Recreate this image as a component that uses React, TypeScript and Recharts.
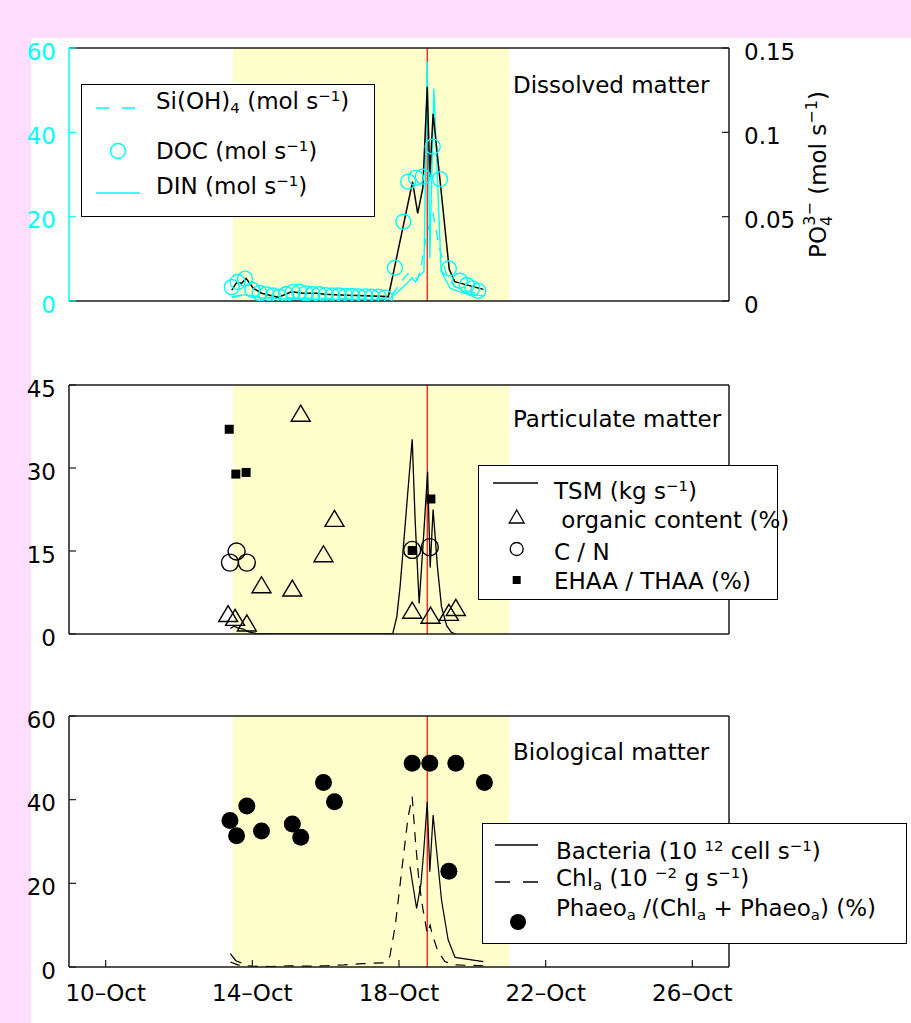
import React from 'react';
import {
  ComposedChart,
  Line,
  Scatter,
  XAxis,
  YAxis,
  ReferenceArea,
  ReferenceLine,
  Legend,
} from 'recharts';

const FONT = '"DejaVu Sans", Arial, sans-serif';
const FS = 23;
const CYAN = '#00FFFF';
const INK = '#000000';
const FRAME = '#1a1a1a';
const SHADE = '#FFFFCC';
const PINK = '#FFDDFF';

// Time axis (day of October)
const dayDomain: [number, number] = [9, 27];
const dayTicks = [10, 14, 18, 22, 26];
const dayLabels = ['10–Oct', '14–Oct', '18–Oct', '22–Oct', '26–Oct'];
const shadeStart = 13.47;
const shadeEnd = 21.0;
const floodPeak = 18.77;

// ---- Dissolved matter ----
const po4Days = [13.44, 13.57, 13.71, 13.83, 14.03, 14.25, 14.71, 15.07, 15.39, 15.75, 15.98, 16.39, 16.85, 17.71, 18.37, 18.51, 18.65, 18.77, 18.84, 18.93, 19.37, 19.52, 20.3];
const po4Flux = [0.0065, 0.0109, 0.0105, 0.0134, 0.0075, 0.0046, 0.0022, 0.0055, 0.0046, 0.0046, 0.004, 0.0036, 0.0032, 0.0026, 0.0707, 0.052, 0.067, 0.127, 0.0737, 0.111, 0.0188, 0.0115, 0.0069];

const docDays = [13.44, 13.6, 13.8, 14.0, 14.2, 14.38, 14.56, 14.74, 14.92, 15.1, 15.28, 15.46, 15.64, 15.82, 16.0, 16.18, 16.36, 16.54, 16.72, 16.9, 17.08, 17.26, 17.44, 17.62, 17.89, 18.12, 18.25, 18.46, 18.65, 18.92, 19.12, 19.36, 19.66, 19.85, 20.0, 20.16];
const docFlux = [3.3, 4.5, 5.3, 2.6, 1.9, 1.6, 1.3, 1.0, 1.6, 2.1, 2.2, 1.8, 1.6, 1.6, 1.4, 1.3, 1.3, 1.2, 1.2, 1.1, 1.1, 1.0, 1.0, 0.8, 7.9, 18.8, 28.3, 29.2, 29.5, 36.6, 28.9, 7.7, 4.8, 3.8, 3.0, 2.4];

const siDays = [13.44, 13.8, 14.2, 15.0, 16.0, 17.0, 17.7, 17.9, 18.1, 18.25, 18.4, 18.5, 18.6, 18.72, 18.8, 18.92, 19.05, 19.15, 19.3, 19.5, 19.8, 20.3];
const siFlux = [1.0, 1.6, 0.9, 0.7, 0.6, 0.5, 0.5, 2.5, 5.0, 6.5, 6.0, 5.0, 8.0, 14.0, 17.0, 21.0, 15.0, 11.0, 6.0, 3.5, 2.5, 1.5];

const dinDays = [13.44, 13.8, 14.2, 15.0, 16.0, 17.0, 17.7, 17.95, 18.2, 18.35, 18.45, 18.55, 18.68, 18.77, 18.84, 18.95, 19.15, 19.4, 19.8, 20.3];
const dinFlux = [0.8, 1.5, 0.8, 0.5, 0.4, 0.3, 0.3, 2.0, 4.0, 5.5, 4.5, 6.0, 7.0, 56.7, 10.2, 50.4, 7.0, 3.0, 1.8, 1.2];

// ---- Particulate matter ----
const tsmDays = [13.4, 13.5, 13.6, 13.75, 13.9, 14.1, 14.5, 15.5, 16.5, 17.5, 17.83, 17.94, 18.03, 18.12, 18.23, 18.36, 18.44, 18.55, 18.67, 18.78, 18.85, 18.93, 19.05, 19.16, 19.3, 19.43, 19.55];
const tsmFlux = [1.0, 1.4, 1.1, 0.9, 0.4, 0.1, 0, 0, 0, 0, 0.1, 3.1, 8.6, 15.8, 24.8, 35.2, 20.6, 5.5, 17.6, 29.3, 12.0, 22.5, 12.0, 4.9, 1.5, 0.3, 0];

const organicDays = [13.34, 13.53, 13.85, 14.25, 15.09, 15.32, 15.94, 16.24, 18.36, 18.86, 19.36, 19.55];
const organicPct = [3.7, 3.0, 2.0, 8.9, 8.3, 39.9, 14.5, 20.9, 4.3, 3.4, 3.9, 4.8];

const cnDays = [13.39, 13.57, 13.85, 18.36, 18.84];
const cnRatio = [12.9, 14.9, 12.9, 15.2, 15.7];

const ehaaDays = [13.37, 13.55, 13.83, 18.36, 18.87];
const ehaaPct = [37.0, 28.9, 29.2, 15.1, 24.4];

// ---- Biological matter ----
const bacteriaDays = [13.4, 13.55, 13.7, 14.0, 18.3, 18.4, 18.48, 18.6, 18.67, 18.77, 18.84, 18.93, 19.16, 19.34, 19.53, 20.3];
const bacteriaFlux = [3.2, 1.5, 1.0, null, 24.0, 18.4, 14.0, 20.0, 27.2, 39.5, 22.8, 36.3, 16.0, 6.5, 2.3, 1.3];

const chlDays = [13.4, 13.6, 14.0, 14.5, 15.0, 15.5, 16.0, 16.5, 17.0, 17.6, 17.75, 17.9, 18.1, 18.25, 18.36, 18.45, 18.55, 18.65, 18.77, 18.85, 18.9, 19.05, 19.25, 19.5, 20.3];
const chlFlux = [1.2, 0.5, 0.2, 0.1, 0.3, 0.2, 0.3, 0.5, 0.8, 1.0, 2.5, 10.0, 25.0, 36.0, 40.7, 30.0, 20.0, 14.0, 8.0, 10.0, 8.0, 4.0, 1.3, 0.5, 0.3];

const phaeoDays = [13.39, 13.57, 13.85, 14.25, 15.09, 15.32, 15.94, 16.24, 18.36, 18.84, 19.55, 20.33, 19.36];
const phaeoPct = [35.0, 31.4, 38.5, 32.5, 34.2, 31.0, 44.1, 39.5, 48.7, 48.7, 48.7, 44.1, 22.9];

type Pt = { t: number; v: number | null };
const pts = (days: number[], vals: (number | null)[]): Pt[] =>
  days.map((t, i) => ({ t, v: vals[i] }));

// ---- tick renderers ----
const leftTick = (color: string) => (p: any) => (
  <text x={p.x} y={p.y + 11.5} textAnchor="end" fill={color} fontSize={FS} fontFamily={FONT}>
    {p.payload.value}
  </text>
);
const rightTick = (p: any) => (
  <text x={p.x} y={p.y + 11.5} textAnchor="start" fill={INK} fontSize={FS} fontFamily={FONT}>
    {p.payload.value}
  </text>
);
const dateTick = (p: any) => (
  <text x={p.x} y={p.y + 17} textAnchor="middle" fill={INK} fontSize={FS} fontFamily={FONT}>
    {dayLabels[dayTicks.indexOf(p.payload.value)]}
  </text>
);

// ---- marker shapes ----
const ring = (r: number, color: string, sw: number) => (p: any) => (
  <circle cx={p.cx} cy={p.cy} r={r} fill="none" stroke={color} strokeWidth={sw} />
);
const disc = (r: number) => (p: any) => <circle cx={p.cx} cy={p.cy} r={r} fill={INK} />;
const triangle = (p: any) => (
  <polygon
    points={`${p.cx},${p.cy - 8} ${p.cx - 9.5},${p.cy + 8} ${p.cx + 9.5},${p.cy + 8}`}
    fill="none"
    stroke={INK}
    strokeWidth={1.4}
  />
);
const square = (p: any) => <rect x={p.cx - 4.5} y={p.cy - 4.5} width={9} height={9} fill={INK} />;

const sup: React.CSSProperties = { fontSize: '0.65em', verticalAlign: '0.55em', lineHeight: 0 };
const sub: React.CSSProperties = { fontSize: '0.65em', verticalAlign: '-0.3em', lineHeight: 0 };

const row = (left: number, baseline: number): React.CSSProperties => ({
  position: 'absolute',
  left,
  top: baseline - 19.5,
  lineHeight: `${FS}px`,
  whiteSpace: 'nowrap',
});

const boxStyle = (w: number, h: number): React.CSSProperties => ({
  position: 'relative',
  width: w,
  height: h,
  border: `1.5px solid ${INK}`,
  background: '#ffffff',
  boxSizing: 'border-box',
  fontFamily: FONT,
  fontSize: FS,
  color: INK,
});

const DissolvedKey = () => (
  <div style={boxStyle(294, 133)}>
    <svg width={294} height={133} style={{ position: 'absolute', left: -1.5, top: -1.5 }}>
      <line x1={15} x2={59} y1={24} y2={24} stroke={CYAN} strokeWidth={1.5} strokeDasharray="13 13" />
      <circle cx={37} cy={67} r={7.5} fill="none" stroke={CYAN} strokeWidth={1.5} />
      <line x1={15} x2={59} y1={109} y2={109} stroke={CYAN} strokeWidth={1.5} />
    </svg>
    <div style={row(74, 24)}>
      Si(OH)<span style={sub}>4</span> (mol s<span style={sup}>−1</span>)
    </div>
    <div style={row(74, 74)}>
      DOC (mol s<span style={sup}>−1</span>)
    </div>
    <div style={row(74, 109)}>
      DIN (mol s<span style={sup}>−1</span>)
    </div>
  </div>
);

const ParticulateKey = () => (
  <div style={boxStyle(300, 135)}>
    <svg width={300} height={135} style={{ position: 'absolute', left: -1.5, top: -1.5 }}>
      <line x1={15} x2={60} y1={18} y2={18} stroke={INK} strokeWidth={1.3} />
      <polygon points="38.7,45 31.2,58 46.2,58" fill="none" stroke={INK} strokeWidth={1.3} />
      <circle cx={38.7} cy={84} r={6.5} fill="none" stroke={INK} strokeWidth={1.3} />
      <rect x={34.7} y={111} width={8} height={8} fill={INK} />
    </svg>
    <div style={row(75, 33)}>
      TSM (kg s<span style={sup}>−1</span>)
    </div>
    <div style={row(75, 62)}>{'\u00a0organic content (%)'}</div>
    <div style={row(75, 94)}>C / N</div>
    <div style={row(75, 123)}>EHAA / THAA (%)</div>
  </div>
);

const BiologicalKey = () => (
  <div style={boxStyle(425, 121)}>
    <svg width={425} height={121} style={{ position: 'absolute', left: -1.5, top: -1.5 }}>
      <line x1={13} x2={56} y1={22} y2={22} stroke={INK} strokeWidth={1.3} />
      <line x1={13} x2={56} y1={59} y2={59} stroke={INK} strokeWidth={1.3} strokeDasharray="15 13" />
      <circle cx={36} cy={99} r={8} fill={INK} />
    </svg>
    <div style={row(73, 35)}>
      Bacteria (10 <span style={sup}>12</span> cell s<span style={sup}>−1</span>)
    </div>
    <div style={row(73, 62)}>
      Chl<span style={sub}>a</span> (10 <span style={sup}>−2</span> g s<span style={sup}>−1</span>)
    </div>
    <div style={row(73, 92)}>
      Phaeo<span style={sub}>a</span> /(Chl<span style={sub}>a</span> + Phaeo<span style={sub}>a</span>) (%)
    </div>
  </div>
);

const Po4Title = (props: any) => {
  const vb = props.viewBox || { x: 729, y: 48, width: 60, height: 253 };
  const x = vb.x + 97;
  const y = vb.y + vb.height / 2;
  return (
    <text
      x={x}
      y={y}
      transform={`rotate(-90 ${x} ${y})`}
      textAnchor="middle"
      fontSize={FS}
      fontFamily={FONT}
      fill={INK}
    >
      PO
      <tspan fontSize={16} dy={6}>4</tspan>
      <tspan fontSize={16} dx={-10} dy={-17}>3−</tspan>
      <tspan dy={11}> (mol s</tspan>
      <tspan fontSize={16} dy={-9}>−1</tspan>
      <tspan dy={9}>)</tspan>
    </text>
  );
};

const TICK = 7;
const axisLine = { stroke: FRAME, strokeWidth: 1.5 };
const tickLine = { stroke: FRAME, strokeWidth: 1.2 };

const titleStyle = (left: number, baseline: number): React.CSSProperties => ({
  position: 'absolute',
  left,
  top: baseline - 19.5,
  lineHeight: `${FS}px`,
  fontFamily: FONT,
  fontSize: FS,
  color: INK,
  whiteSpace: 'nowrap',
});

const legendProps = {
  layout: 'vertical' as const,
  align: 'center' as const,
  verticalAlign: 'middle' as const,
};

export default function App() {
  return (
    <div
      style={{
        position: 'absolute',
        left: 0,
        top: 0,
        width: 911,
        height: 1023,
        background: PINK,
        overflow: 'hidden',
      }}
    >
      <div style={{ position: 'absolute', left: 31, top: 38, right: 0, bottom: 0, background: '#ffffff' }} />

      {/* Dissolved matter */}
      <div style={{ position: 'absolute', left: 0, top: 0 }}>
        <ComposedChart width={911} height={320} margin={{ top: 40, right: 122, bottom: 0, left: 0 }}>
          <XAxis
            type="number"
            dataKey="t"
            domain={dayDomain}
            ticks={dayTicks}
            allowDataOverflow
            height={19}
            tick={false}
            tickSize={-TICK}
            axisLine={axisLine}
            tickLine={tickLine}
          />
          <XAxis
            xAxisId="top"
            orientation="top"
            type="number"
            dataKey="t"
            domain={dayDomain}
            ticks={dayTicks}
            allowDataOverflow
            height={8}
            tick={false}
            tickSize={-TICK}
            axisLine={axisLine}
            tickLine={tickLine}
          />
          <YAxis
            type="number"
            domain={[0, 60]}
            ticks={[0, 20, 40, 60]}
            allowDataOverflow
            width={69}
            tickSize={-TICK}
            tickMargin={13 + TICK}
            tick={leftTick(CYAN)}
            axisLine={{ stroke: CYAN, strokeWidth: 1.5 }}
            tickLine={{ stroke: CYAN, strokeWidth: 1.2 }}
          />
          <YAxis
            yAxisId="r"
            orientation="right"
            type="number"
            domain={[0, 0.15]}
            ticks={[0, 0.05, 0.1, 0.15]}
            allowDataOverflow
            width={60}
            tickSize={-TICK}
            tickMargin={15 + TICK}
            tick={rightTick}
            axisLine={axisLine}
            tickLine={tickLine}
            label={Po4Title}
          />
          <ReferenceArea x1={shadeStart} x2={shadeEnd} fill={SHADE} fillOpacity={1} stroke="none" ifOverflow="hidden" />
          <ReferenceLine x={floodPeak} stroke="#FF0000" strokeWidth={1.2} />
          <Line data={pts(siDays, siFlux)} dataKey="v" stroke={CYAN} strokeWidth={1.4} strokeDasharray="10 8" dot={false} activeDot={false} isAnimationActive={false} />
          <Line data={pts(dinDays, dinFlux)} dataKey="v" stroke={CYAN} strokeWidth={1.4} dot={false} activeDot={false} isAnimationActive={false} />
          <Scatter data={pts(docDays, docFlux)} dataKey="v" shape={ring(7.5, CYAN, 1.4)} isAnimationActive={false} />
          <Line yAxisId="r" data={pts(po4Days, po4Flux)} dataKey="v" stroke={INK} strokeWidth={1.5} dot={false} activeDot={false} isAnimationActive={false} />
          <Legend {...legendProps} content={() => <DissolvedKey />} wrapperStyle={{ left: 81, top: 84, width: 294, height: 133 }} />
        </ComposedChart>
      </div>
      <div style={titleStyle(513, 93)}>Dissolved matter</div>

      {/* Particulate matter */}
      <div style={{ position: 'absolute', left: 0, top: 320 }}>
        <ComposedChart width={911} height={340} margin={{ top: 57, right: 122, bottom: 0, left: 0 }}>
          <XAxis type="number" dataKey="t" domain={dayDomain} ticks={dayTicks} allowDataOverflow height={26} tick={false} tickSize={-TICK} axisLine={axisLine} tickLine={tickLine} />
          <XAxis xAxisId="top" orientation="top" type="number" dataKey="t" domain={dayDomain} ticks={dayTicks} allowDataOverflow height={8} tick={false} tickSize={-TICK} axisLine={axisLine} tickLine={tickLine} />
          <YAxis type="number" domain={[0, 45]} ticks={[0, 15, 30, 45]} allowDataOverflow width={69} tickSize={-TICK} tickMargin={13 + TICK} tick={leftTick(INK)} axisLine={axisLine} tickLine={tickLine} />
          <YAxis yAxisId="r" orientation="right" type="number" domain={[0, 45]} ticks={[0, 15, 30, 45]} allowDataOverflow width={60} tickSize={-TICK} tick={false} axisLine={axisLine} tickLine={tickLine} />
          <ReferenceArea x1={shadeStart} x2={shadeEnd} fill={SHADE} fillOpacity={1} stroke="none" ifOverflow="hidden" />
          <ReferenceLine x={floodPeak} stroke="#FF0000" strokeWidth={1.2} />
          <Line data={pts(tsmDays, tsmFlux)} dataKey="v" stroke={INK} strokeWidth={1.3} dot={false} activeDot={false} isAnimationActive={false} />
          <Scatter data={pts(organicDays, organicPct)} dataKey="v" shape={triangle} isAnimationActive={false} />
          <Scatter data={pts(cnDays, cnRatio)} dataKey="v" shape={ring(8.5, INK, 1.4)} isAnimationActive={false} />
          <Scatter data={pts(ehaaDays, ehaaPct)} dataKey="v" shape={square} isAnimationActive={false} />
          <Legend {...legendProps} content={() => <ParticulateKey />} wrapperStyle={{ left: 478, top: 145, width: 300, height: 135 }} />
        </ComposedChart>
      </div>
      <div style={titleStyle(513, 427)}>Particulate matter</div>

      {/* Biological matter */}
      <div style={{ position: 'absolute', left: 0, top: 660 }}>
        <ComposedChart width={911} height={363} margin={{ top: 48, right: 122, bottom: 0, left: 0 }}>
          <XAxis type="number" dataKey="t" domain={dayDomain} ticks={dayTicks} allowDataOverflow height={56} tick={dateTick} tickSize={-TICK} tickMargin={24} axisLine={axisLine} tickLine={tickLine} />
          <XAxis xAxisId="top" orientation="top" type="number" dataKey="t" domain={dayDomain} ticks={dayTicks} allowDataOverflow height={8} tick={false} tickSize={-TICK} axisLine={axisLine} tickLine={tickLine} />
          <YAxis type="number" domain={[0, 60]} ticks={[0, 20, 40, 60]} allowDataOverflow width={69} tickSize={-TICK} tickMargin={13 + TICK} tick={leftTick(INK)} axisLine={axisLine} tickLine={tickLine} />
          <YAxis yAxisId="r" orientation="right" type="number" domain={[0, 60]} ticks={[0, 20, 40, 60]} allowDataOverflow width={60} tickSize={-TICK} tick={false} axisLine={axisLine} tickLine={tickLine} />
          <ReferenceArea x1={shadeStart} x2={shadeEnd} fill={SHADE} fillOpacity={1} stroke="none" ifOverflow="hidden" />
          <ReferenceLine x={floodPeak} stroke="#FF0000" strokeWidth={1.2} />
          <Line data={pts(chlDays, chlFlux)} dataKey="v" stroke={INK} strokeWidth={1.2} strokeDasharray="10 8" dot={false} activeDot={false} isAnimationActive={false} />
          <Line data={pts(bacteriaDays, bacteriaFlux)} dataKey="v" stroke={INK} strokeWidth={1.2} dot={false} activeDot={false} connectNulls={false} isAnimationActive={false} />
          <Scatter data={pts(phaeoDays, phaeoPct)} dataKey="v" shape={disc(8.5)} isAnimationActive={false} />
          <Legend {...legendProps} content={() => <BiologicalKey />} wrapperStyle={{ left: 482, top: 163, width: 425, height: 121 }} />
        </ComposedChart>
      </div>
      <div style={titleStyle(513, 760)}>Biological matter</div>
    </div>
  );
}
